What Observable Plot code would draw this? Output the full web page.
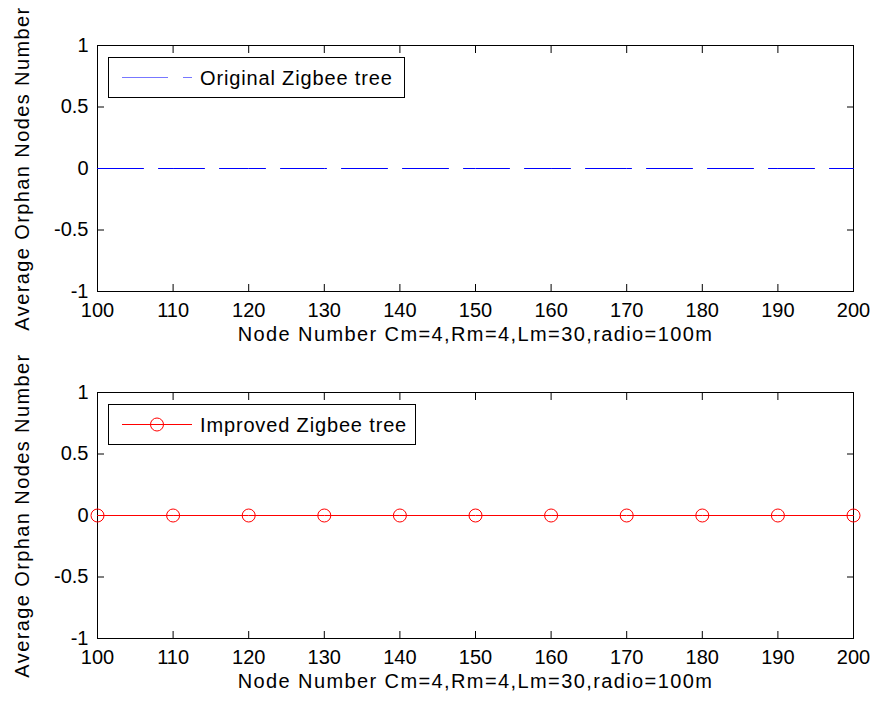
<!DOCTYPE html>
<html>
<head>
<meta charset="utf-8">
<script src="https://cdn.jsdelivr.net/npm/d3@7"></script>
<script src="https://cdn.jsdelivr.net/npm/@observablehq/plot@0.6"></script>
<style>
  html, body { margin: 0; padding: 0; background: #fff; }
  #chart { width: 874px; height: 702px; overflow: hidden; }
  svg { display: block; }
</style>
</head>
<body>
<div id="chart"></div>
<script>
const nodes = [100, 110, 120, 130, 140, 150, 160, 170, 180, 190, 200];
const originalTree = [0, 0, 0, 0, 0, 0, 0, 0, 0, 0, 0];
const improvedTree = [0, 0, 0, 0, 0, 0, 0, 0, 0, 0, 0];
const xTicks = [100, 110, 120, 130, 140, 150, 160, 170, 180, 190, 200];
const yTicks = [-1, -0.5, 0, 0.5, 1];
const xLabel = "Node Number Cm=4,Rm=4,Lm=30,radio=100m";
const yLabel = "Average Orphan Nodes Number";
const seriesNames = ["Original Zigbee tree", "Improved Zigbee tree"];

const FONT = "'Liberation Sans', Arial, sans-serif";

function frameAxes() {
  return [
    Plot.axisX(xTicks, {anchor: "bottom", tickSize: 0, tickPadding: 11, tickFormat: d => String(d), fontSize: 20, label: null}),
    Plot.axisY(yTicks, {anchor: "left", tickSize: 0, tickPadding: 9, tickFormat: d => String(d), fontSize: 20, label: null}),
    Plot.axisX(xTicks, {anchor: "bottom", tickSize: -7, tickFormat: () => "", label: null}),
    Plot.axisX(xTicks, {anchor: "top", tickSize: -7, tickFormat: () => "", label: null}),
    Plot.axisY(yTicks, {anchor: "left", tickSize: -7, tickFormat: () => "", label: null}),
    Plot.axisY(yTicks, {anchor: "right", tickSize: -7, tickFormat: () => "", label: null}),
    Plot.frame({stroke: "black", strokeWidth: 1}),
    Plot.text([xLabel], {frameAnchor: "bottom", dy: 43, fontSize: 20, text: d => d, textAnchor: "middle", lineAnchor: "middle", fill: "black"}),
    Plot.text([yLabel], {frameAnchor: "left", dx: -75, rotate: -90, fontSize: 20, text: d => d, textAnchor: "middle", lineAnchor: "middle", fill: "black"})
  ];
}

function makePlot(values, opts, height, marginBottom) {
  const data = nodes.map((n, i) => ({x: n, y: values[i]}));
  const marks = [...frameAxes(), Plot.line(data, {x: "x", y: "y", stroke: opts.stroke, strokeWidth: 1, strokeDasharray: opts.dash || null})];
  if (opts.dots) marks.push(Plot.dot(data, {x: "x", y: "y", r: 6.5, stroke: opts.stroke, fill: "none", strokeWidth: 1}));
  const svg = Plot.plot({
    width: 874,
    height,
    marginLeft: 97,
    marginRight: 21,
    marginTop: 45,
    marginBottom,
    style: {fontFamily: FONT, fontSize: "20px", background: "white", color: "black", overflow: "visible"},
    x: {domain: [100, 200], axis: null},
    y: {domain: [-1, 1], axis: null},
    marks
  });
  d3.select(svg).selectAll("text")
    .filter(function () { return this.textContent === xLabel || this.textContent === yLabel; })
    .attr("letter-spacing", "1.4px");
  return svg;
}

function addLegend(svg, name, opts, boxW) {
  const g = d3.select(svg).append("g");
  g.append("rect").attr("x", 108.5).attr("y", 57.5).attr("width", boxW).attr("height", 40)
    .attr("fill", "white").attr("stroke", "black").attr("stroke-width", 1);
  const line = g.append("line").attr("x1", 122).attr("x2", 192).attr("y1", 77.5).attr("y2", 77.5)
    .attr("stroke", opts.legendStroke).attr("stroke-width", 1);
  if (opts.dash) line.attr("stroke-dasharray", opts.dash);
  if (opts.dots) g.append("circle").attr("cx", 157).attr("cy", 77.5).attr("r", 6.5).attr("fill", "none").attr("stroke", opts.stroke);
  g.append("text").attr("x", 200).attr("y", 77.5).attr("dy", "0.35em").attr("font-size", 20)
    .attr("text-anchor", "start")
    .attr("font-family", FONT).attr("fill", "black").attr("letter-spacing", "0.85px").text(name);
}

const topChart = makePlot(originalTree, {stroke: "blue", dash: "46,15"}, 347, 56);
addLegend(topChart, seriesNames[0], {stroke: "blue", legendStroke: "#7777ff", dash: "46,15"}, 296);
const bottomChart = makePlot(improvedTree, {stroke: "red", dots: true}, 355, 64);
addLegend(bottomChart, seriesNames[1], {stroke: "red", legendStroke: "red", dots: true}, 307);

document.getElementById("chart").append(topChart, bottomChart);
</script>
</body>
</html>
